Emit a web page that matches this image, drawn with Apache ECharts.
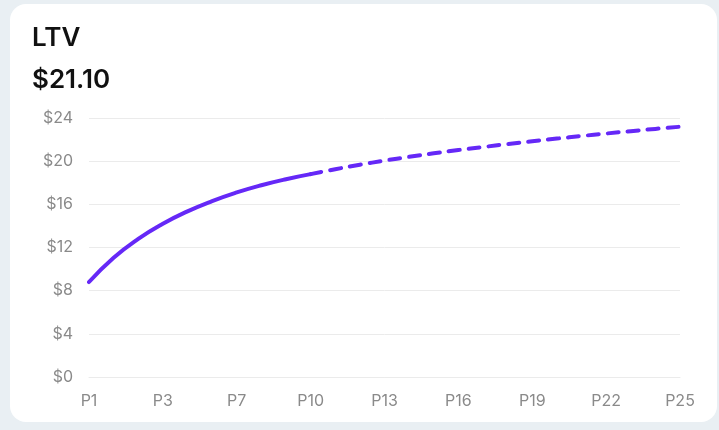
<!DOCTYPE html>
<html>
<head>
<meta charset="utf-8">
<script src="https://cdn.jsdelivr.net/npm/echarts@6/dist/echarts.min.js"></script>
<style>
  html, body { margin: 0; padding: 0; background: #e9eff3; }
  #chart { width: 719px; height: 430px; }
</style>
</head>
<body>
<div id="chart"></div>
<script>
// Period categories along the x axis (every third one is labelled)
const periods = ['P1', 'P1.5', 'P2', 'P3', 'P4', 'P5', 'P7', 'P8', 'P9',
  'P10', 'P11', 'P12', 'P13', 'P14', 'P15', 'P16', 'P17', 'P18', 'P19',
  'P20', 'P21', 'P22', 'P23', 'P24', 'P25'];

// Observed lifetime value, P1 through P10
const actualLtv = [8.8, 11.05, 12.8, 14.2, 15.35, 16.3, 17.1, 17.77, 18.33, 18.8];

// Projected lifetime value, P10 through P25
const projectedLtv = [18.8, 19.25, 19.67, 20.05, 20.4, 20.73, 21.03, 21.31, 21.58,
  21.84, 22.09, 22.33, 22.56, 22.78, 22.99, 23.19];

const headline = 'LTV';
const headlineValue = '$21.10';

const yTicks = { min: 0, max: 24, step: 4 };

const purple = '#6528f7';
const font = 'Inter, "Noto Sans", sans-serif';

// Align the two segments on the shared category index
const actualSeries = periods.map((_, i) => i < actualLtv.length ? actualLtv[i] : null);
const projStart = actualLtv.length - 1;
const projectedSeries = periods.map((_, i) => {
  const k = i - projStart;
  return k >= 0 && k < projectedLtv.length ? projectedLtv[k] : null;
});

const chart = echarts.init(document.getElementById('chart'), null, { renderer: 'canvas' });

chart.setOption({
  backgroundColor: '#e9eff3',
  animation: false,
  graphic: [{
    type: 'rect',
    z: -10,
    shape: { x: 10, y: 4, width: 707, height: 418, r: 16 },
    style: { fill: '#ffffff' }
  }],
  title: [
    {
      text: headline, left: 32, top: 25, padding: 0,
      textStyle: { fontFamily: font, fontSize: 26, fontWeight: 600, color: '#111111' }
    },
    {
      text: headlineValue, left: 32, top: 67, padding: 0,
      textStyle: { fontFamily: font, fontSize: 26, fontWeight: 600, color: '#111111' }
    }
  ],
  grid: { left: 89, right: 39, top: 118, bottom: 53, containLabel: false },
  xAxis: {
    type: 'category',
    data: periods,
    boundaryGap: false,
    axisLine: { show: true, lineStyle: { color: '#ebebeb', width: 1 } },
    axisTick: { show: false },
    axisLabel: {
      interval: 2,
      margin: 16,
      color: '#8a8a8a',
      fontFamily: font,
      fontSize: 16
    },
    splitLine: { show: false }
  },
  yAxis: {
    type: 'value',
    min: yTicks.min,
    max: yTicks.max,
    interval: yTicks.step,
    axisLine: { show: false },
    axisTick: { show: false },
    axisLabel: {
      margin: 16,
      color: '#8a8a8a',
      fontFamily: font,
      fontSize: 16,
      formatter: v => '$' + v
    },
    splitLine: { lineStyle: { color: '#ebebeb', width: 1 } }
  },
  series: [
    {
      name: 'Actual',
      type: 'line',
      data: actualSeries,
      smooth: true,
      showSymbol: false,
      lineStyle: { color: purple, width: 4, cap: 'round' }
    },
    {
      name: 'Projected',
      type: 'line',
      data: projectedSeries,
      smooth: true,
      showSymbol: false,
      lineStyle: { color: purple, width: 4, cap: 'round', type: [11, 9] }
    }
  ]
});
</script>
</body>
</html>
